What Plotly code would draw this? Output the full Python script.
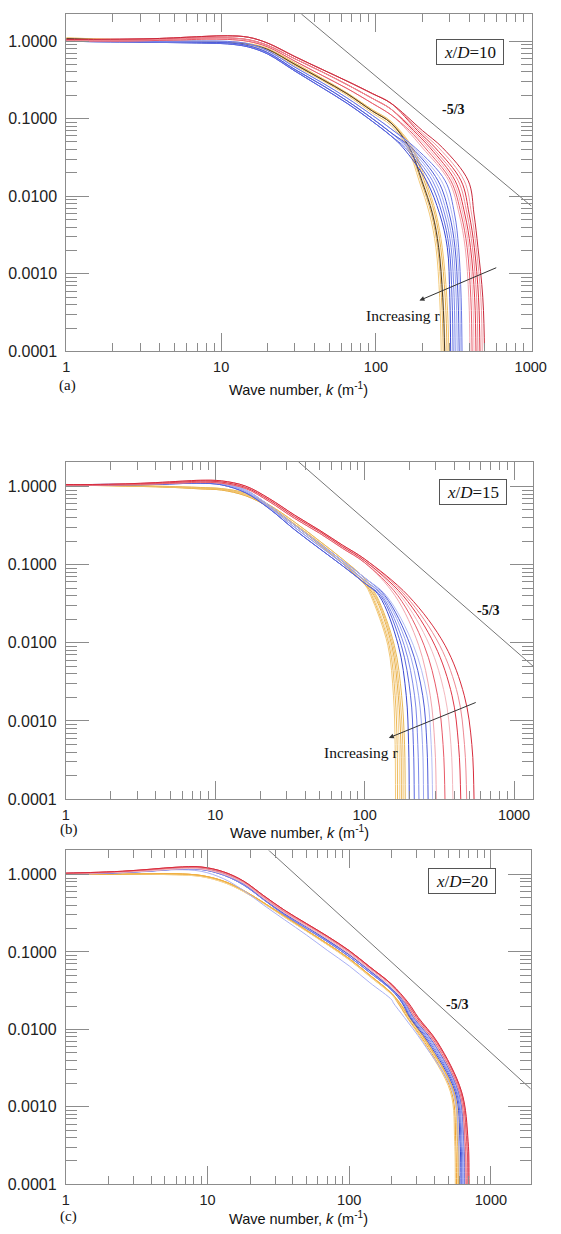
import plotly.graph_objects as go

# ---------------- Panel (a): x/D = 10 ----------------
K_A = [1, 1.5, 2.5, 4, 6, 8, 11, 15, 20, 30, 45, 65, 95, 125]
A_YEL_BODY = [
    [1.08, 1.05, 1.02, 1.00, 0.98, 0.97, 0.96, 0.91, 0.78, 0.50, 0.32, 0.210, 0.125, 0.088],
    [1.04, 1.02, 1.00, 0.98, 0.96, 0.95, 0.94, 0.88, 0.75, 0.48, 0.31, 0.200, 0.118, 0.082],
    [1.10, 1.07, 1.04, 1.02, 1.00, 0.99, 0.98, 0.93, 0.80, 0.52, 0.33, 0.215, 0.130, 0.092],
]
A_BLU_BODY = [
    [1.02, 1.00, 0.99, 0.98, 0.97, 0.96, 0.95, 0.87, 0.71, 0.43, 0.27, 0.170, 0.100, 0.066],
    [1.00, 0.98, 0.97, 0.96, 0.95, 0.94, 0.92, 0.84, 0.68, 0.41, 0.25, 0.158, 0.092, 0.060],
    [1.04, 1.02, 1.01, 1.00, 1.00, 1.00, 0.99, 0.92, 0.75, 0.46, 0.29, 0.185, 0.110, 0.074],
]
A_RED_BODY = [
    [1.05, 1.05, 1.06, 1.08, 1.12, 1.15, 1.17, 1.12, 0.94, 0.63, 0.43, 0.305, 0.210, 0.158],
    [1.02, 1.02, 1.03, 1.05, 1.08, 1.10, 1.10, 1.04, 0.88, 0.59, 0.40, 0.275, 0.182, 0.133],
    [1.00, 1.00, 1.00, 1.02, 1.04, 1.06, 1.05, 0.99, 0.84, 0.55, 0.36, 0.245, 0.157, 0.112],
]
A_TAIL_E = [0.042, 0.0158, 0.0059, 0.0022, 0.0005, 0.0001, 0.00001]
A_YEL_TAIL_K = [
    [160, 190, 222, 244, 258, 264, 267],
    [163, 195, 228, 250, 265, 272, 275],
    [166, 200, 234, 256, 272, 280, 283],
    [170, 205, 240, 262, 280, 288, 291],
    [173, 210, 245, 268, 287, 296, 299],
    [165, 198, 232, 254, 270, 278, 281],
]
A_YEL_VAR = [1, 0, 2, 0, 2, 0]
A_BLU_TAIL_K = [
    [150, 212, 258, 289, 300, 304, 306],
    [155, 222, 268, 297, 310, 315, 317],
    [160, 232, 278, 306, 320, 325, 327],
    [165, 242, 288, 315, 330, 335, 338],
    [170, 252, 298, 324, 339, 345, 348],
    [175, 265, 310, 333, 348, 353, 356],
    [180, 280, 322, 342, 355, 360, 363],
]
A_BLU_VAR = [1, 1, 0, 0, 0, 2, 2]
A_RED_TAIL_E = [0.07, 0.042, 0.0158, 0.0059, 0.0022, 0.0005, 0.0001, 0.00001]
A_RED_TAIL_K = [
    [160, 200, 296, 345, 377, 398, 405, 408],
    [165, 208, 305, 355, 388, 410, 418, 421],
    [170, 216, 315, 365, 398, 422, 430, 434],
    [175, 224, 325, 375, 408, 434, 443, 447],
    [180, 232, 340, 388, 420, 447, 456, 460],
    [186, 242, 355, 400, 432, 460, 470, 474],
    [192, 255, 372, 415, 444, 476, 486, 490],
    [200, 270, 395, 430, 456, 490, 503, 507],
]
A_RED_VAR = [2, 2, 1, 1, 1, 0, 0, 0]
A_REF_K = [33, 1010]
A_REF_E = [2.23, 0.00746]

# ---------------- Panel (b): x/D = 15 ----------------
K_B = [1, 1.5, 2.5, 4, 6, 8, 11, 16, 23, 34, 50, 71, 100]
B_YEL_BODY = [
    [1.06, 1.05, 1.03, 1.01, 0.99, 0.97, 0.94, 0.82, 0.58, 0.35, 0.20, 0.118, 0.066],
    [1.05, 1.04, 1.02, 1.00, 0.97, 0.95, 0.92, 0.79, 0.56, 0.33, 0.19, 0.110, 0.060],
    [1.04, 1.03, 1.01, 0.99, 0.96, 0.93, 0.90, 0.76, 0.54, 0.32, 0.18, 0.104, 0.056],
]
B_BLU_BODY = [
    [1.06, 1.06, 1.08, 1.10, 1.14, 1.16, 1.13, 0.90, 0.57, 0.32, 0.185, 0.112, 0.068],
    [1.05, 1.05, 1.06, 1.08, 1.12, 1.13, 1.09, 0.86, 0.54, 0.30, 0.172, 0.104, 0.063],
    [1.04, 1.04, 1.05, 1.06, 1.09, 1.10, 1.05, 0.83, 0.52, 0.28, 0.160, 0.097, 0.058],
]
B_RED_BODY = [
    [1.06, 1.06, 1.08, 1.12, 1.17, 1.20, 1.18, 1.01, 0.70, 0.43, 0.275, 0.178, 0.118],
    [1.05, 1.05, 1.07, 1.10, 1.14, 1.17, 1.14, 0.97, 0.67, 0.41, 0.265, 0.170, 0.112],
    [1.04, 1.04, 1.05, 1.08, 1.11, 1.13, 1.10, 0.94, 0.64, 0.39, 0.252, 0.162, 0.106],
]
B_TAIL_E = [0.04, 0.0093, 0.0021, 0.0005, 0.0001, 0.00001]
B_YEL_TAIL_K = [
    [110, 143, 156, 160, 161, 162],
    [112, 146, 160, 165, 166, 167],
    [114, 149, 164, 170, 171, 172],
    [116, 152, 168, 175, 176, 177],
    [118, 155, 172, 180, 181, 182],
    [120, 158, 177, 185, 187, 188],
]
B_YEL_VAR = [2, 1, 0, 2, 1, 0]
B_BLU_TAIL_K = [
    [125, 168, 190, 197, 199, 200],
    [128, 176, 203, 212, 215, 216],
    [131, 184, 216, 227, 231, 232],
    [134, 193, 230, 244, 248, 249],
    [137, 202, 245, 261, 266, 267],
    [140, 212, 262, 279, 285, 286],
]
B_BLU_VAR = [2, 2, 1, 1, 0, 0]
B_RED_TAIL_K = [
    [160, 230, 275, 295, 302, 304],
    [167, 250, 308, 335, 345, 347],
    [174, 272, 345, 378, 390, 393],
    [181, 295, 385, 425, 440, 443],
    [188, 318, 422, 466, 482, 486],
    [196, 345, 465, 522, 540, 545],
]
B_RED_VAR = [2, 2, 1, 1, 0, 0]
B_REF_K = [36, 1350]
B_REF_E = [2.08, 0.00497]

# ---------------- Panel (c): x/D = 20 ----------------
K_C = [1, 1.5, 2.5, 4, 6, 9, 13, 18, 25, 35, 50, 70, 100, 140, 200]
C_YEL_BODY = [
    [1.00, 1.00, 1.01, 1.02, 1.02, 0.97, 0.82, 0.62, 0.43, 0.29, 0.190, 0.128, 0.082, 0.050, 0.029],
    [1.01, 1.01, 1.00, 1.00, 0.99, 0.94, 0.79, 0.60, 0.42, 0.28, 0.185, 0.124, 0.079, 0.048, 0.028],
]
C_BLU_BODY = [
    [1.03, 1.04, 1.07, 1.13, 1.20, 1.20, 1.02, 0.76, 0.48, 0.31, 0.210, 0.142, 0.092, 0.057, 0.033],
    [1.00, 1.02, 1.05, 1.10, 1.15, 1.10, 0.88, 0.62, 0.40, 0.26, 0.165, 0.105, 0.066, 0.040, 0.024],
    [1.02, 1.03, 1.06, 1.11, 1.17, 1.16, 0.98, 0.73, 0.47, 0.30, 0.200, 0.136, 0.087, 0.054, 0.032],
]
C_RED_BODY = [
    [1.03, 1.05, 1.09, 1.15, 1.22, 1.22, 1.05, 0.80, 0.51, 0.33, 0.225, 0.155, 0.100, 0.062, 0.037],
    [1.02, 1.04, 1.07, 1.12, 1.18, 1.18, 1.01, 0.77, 0.49, 0.32, 0.215, 0.148, 0.095, 0.059, 0.035],
    [1.04, 1.06, 1.10, 1.17, 1.24, 1.25, 1.08, 0.82, 0.53, 0.345, 0.232, 0.160, 0.104, 0.064, 0.038],
]
C_TAIL_E = [0.022, 0.0143, 0.0068, 0.00156, 0.00036, 0.0001, 0.00001]
C_YEL_TAIL_K = [
    [220, 255, 335, 518, 555, 561, 563],
    [222, 258, 342, 528, 565, 572, 574],
    [224, 262, 348, 538, 575, 582, 584],
    [226, 265, 352, 545, 582, 590, 592],
    [228, 268, 356, 550, 590, 598, 600],
]
C_YEL_VAR = [1, 0, 1, 0, 0]
C_BLU_TAIL_K = [
    [205, 245, 330, 540, 590, 600, 603],
    [236, 268, 362, 560, 605, 615, 618],
    [239, 272, 370, 570, 615, 625, 628],
    [242, 276, 378, 578, 625, 636, 639],
    [245, 280, 385, 585, 635, 645, 648],
    [248, 284, 392, 592, 645, 655, 658],
]
C_BLU_VAR = [1, 2, 0, 2, 0, 0]
C_RED_TAIL_K = [
    [250, 288, 398, 598, 652, 662, 665],
    [252, 292, 404, 604, 660, 672, 675],
    [254, 296, 410, 610, 668, 682, 685],
    [257, 300, 415, 615, 676, 690, 693],
    [259, 304, 418, 620, 684, 697, 700],
    [262, 307, 421, 622, 691, 702, 705],
]
C_RED_VAR = [1, 0, 1, 2, 0, 2]
C_REF_K = [25, 1950]
C_REF_E = [2.34, 0.00165]

# tick labels
X_TICKS = [1, 10, 100, 1000]
X_TICKTEXT = ["1", "10", "100", "1000"]
Y_TICKS = [0.0001, 0.001, 0.01, 0.1, 1]
Y_TICKTEXT = ["0.0001", "0.0010", "0.0100", "0.1000", "1.0000"]

# ---------------- styles ----------------
YEL_COLORS = ["#F3C978", "#EDB95A", "#F6D596", "#E9B04A", "#F1C26C", "#4A3A28"]
BLU_COLORS = ["#3A48D0", "#5A68E0", "#7C88EA", "#9CA6F0", "#4C5AD8", "#B4BCF4", "#6A76E4"]
RED_COLORS = ["#F2A6AE", "#E85A68", "#F4B8BE", "#E03848", "#EE8A94", "#D82C3C", "#F09AA2", "#C8283A"]
C_YEL_COLORS = ["#F3C978", "#EFA030", "#F6D596", "#E9B04A", "#F2B040"]
AX = "#8c8c8c"
SANS = "Liberation Sans, Arial, Helvetica, sans-serif"
SERIF = "Liberation Serif, Times New Roman, serif"

fig = go.Figure()


def add_group(xa, ya, kbody, bodies, var, tail_e, tail_k, colors):
    for i, tk in enumerate(tail_k):
        x = list(kbody) + list(tk)
        y = list(bodies[var[i]]) + list(tail_e)
        fig.add_trace(go.Scatter(
            x=x, y=y, mode="lines", xaxis=xa, yaxis=ya,
            line=dict(color=colors[i % len(colors)], width=1, shape="spline", smoothing=1.0),
            hoverinfo="skip", showlegend=False))


def add_ref(xa, ya, k, e):
    fig.add_trace(go.Scatter(x=k, y=e, mode="lines", xaxis=xa, yaxis=ya,
                             line=dict(color="#777777", width=1),
                             hoverinfo="skip", showlegend=False))


add_group("x", "y", K_A, A_YEL_BODY, A_YEL_VAR, A_TAIL_E, A_YEL_TAIL_K, YEL_COLORS)
add_group("x", "y", K_A, A_BLU_BODY, A_BLU_VAR, A_TAIL_E, A_BLU_TAIL_K, BLU_COLORS)
add_group("x", "y", K_A, A_RED_BODY, A_RED_VAR, A_RED_TAIL_E, A_RED_TAIL_K, RED_COLORS)
add_ref("x", "y", A_REF_K, A_REF_E)

add_group("x2", "y2", K_B, B_YEL_BODY, B_YEL_VAR, B_TAIL_E, B_YEL_TAIL_K, YEL_COLORS[:5] + ["#E8B858"])
add_group("x2", "y2", K_B, B_BLU_BODY, B_BLU_VAR, B_TAIL_E, B_BLU_TAIL_K, BLU_COLORS)
add_group("x2", "y2", K_B, B_RED_BODY, B_RED_VAR, B_TAIL_E, B_RED_TAIL_K, RED_COLORS)
add_ref("x2", "y2", B_REF_K, B_REF_E)

add_group("x3", "y3", K_C, C_YEL_BODY, C_YEL_VAR, C_TAIL_E, C_YEL_TAIL_K, C_YEL_COLORS)
add_group("x3", "y3", K_C, C_BLU_BODY, C_BLU_VAR, C_TAIL_E, C_BLU_TAIL_K, ["#A8B0F4"] + BLU_COLORS)
add_group("x3", "y3", K_C, C_RED_BODY, C_RED_VAR, C_TAIL_E, C_RED_TAIL_K, RED_COLORS)
add_ref("x3", "y3", C_REF_K, C_REF_E)

MINOR_X = [m * d for d in (1, 10, 100) for m in range(2, 10)]
MINOR_Y = [m * d for d in (0.0001, 0.001, 0.01, 0.1) for m in range(2, 10)]

W, H = 561, 1234


def xaxis(left, right, rng, anchor):
    return dict(type="log", range=rng, domain=[left / W, right / W], anchor=anchor,
                showline=True, linecolor=AX, linewidth=1, mirror="allticks",
                ticks="inside", ticklen=18, tickwidth=1, tickcolor=AX,
                tickmode="array", tickvals=X_TICKS, ticktext=X_TICKTEXT,
                tickfont=dict(family=SANS, size=14.5, color="#222"),
                ticklabeloverflow="allow",
                showgrid=False, zeroline=False, ticklabelstandoff=2,
                minor=dict(tickmode="array", tickvals=MINOR_X, ticks="inside", ticklen=8,
                           tickwidth=1, tickcolor=AX, showgrid=False))


def yaxis(top, bottom, rng, anchor):
    return dict(type="log", range=rng, domain=[1 - bottom / H, 1 - top / H], anchor=anchor,
                showline=True, linecolor=AX, linewidth=1, mirror="allticks",
                ticks="inside", ticklen=23, tickwidth=1, tickcolor=AX,
                tickmode="array", tickvals=Y_TICKS, ticktext=Y_TICKTEXT,
                tickfont=dict(family=SANS, size=16, color="#222"),
                ticklabeloverflow="allow",
                showgrid=False, zeroline=False, ticklabelstandoff=5,
                minor=dict(tickmode="array", tickvals=MINOR_Y, ticks="inside", ticklen=11,
                           tickwidth=1, tickcolor=AX, showgrid=False))


annotations = []


def txt(px, py, text, font, size, color="#111", **kw):
    annotations.append(dict(x=px / W, y=1 - py / H, xref="paper", yref="paper", text=text,
                            showarrow=False, xanchor="center", yanchor="middle",
                            font=dict(family=font, size=size, color=color), **kw))


def boxed(px, py, text):
    annotations.append(dict(x=px / W, y=1 - py / H, xref="paper", yref="paper", text=text,
                            showarrow=False, xanchor="center", yanchor="middle",
                            font=dict(family=SERIF, size=17, color="#111"),
                            bordercolor="#555", borderwidth=1, borderpad=1,
                            width=64, height=22, bgcolor="white"))


def arrow(hx, hy, tx, ty):
    annotations.append(dict(x=hx / W, y=1 - hy / H, xref="paper", yref="paper", text="",
                            showarrow=True, ax=tx - hx, ay=ty - hy, axref="pixel", ayref="pixel",
                            arrowhead=2, arrowsize=1, arrowwidth=1, arrowcolor="#333"))


TITLE = "Wave number, <i>k</i> (m<sup>-1</sup>)"
# panel a
boxed(482.7, 52, "<i>x</i>/<i>D</i>=10")
txt(465.5, 110, "<b>-5/3</b>", SERIF, 14)
arrow(430, 302.7, 508.3, 269.3)
txt(413, 318.3, "Increasing r", SERIF, 15.5)
txt(66, 388, "(a)", SERIF, 15)
txt(305, 391.7, TITLE, SANS, 14.5)
# panel b
boxed(485, 496, "<i>x</i>/<i>D</i>=15")
txt(501, 615, "<b>-5/3</b>", SERIF, 14)
arrow(398.3, 743.3, 486.7, 707.3)
txt(369, 758.3, "Increasing r", SERIF, 15.5)
txt(67, 836, "(b)", SERIF, 15)
txt(306, 838.3, TITLE, SANS, 14.5)
# panel c
boxed(474.4, 887, "<i>x</i>/<i>D</i>=20")
txt(469, 1011.7, "<b>-5/3</b>", SERIF, 14)
txt(67, 1225, "(c)", SERIF, 15)
txt(304.5, 1226.7, TITLE, SANS, 14.5)

fig.update_layout(
    width=W, height=H, margin=dict(l=0, r=0, t=0, b=0),
    paper_bgcolor="white", plot_bgcolor="white", showlegend=False,
    xaxis=xaxis(64.5, 546, [0, 3.005], "y"),
    yaxis=yaxis(14, 354, [-4, 0.35], "x"),
    xaxis2=xaxis(64, 548, [0, 3.13], "y2"),
    yaxis2=yaxis(465, 805, [-4, 0.318], "x2"),
    xaxis3=xaxis(64, 545, [0, 3.28], "y3"),
    yaxis3=yaxis(856.7, 1193, [-4, 0.31], "x3"),
    annotations=annotations,
)

fig.write_html("out.html")
